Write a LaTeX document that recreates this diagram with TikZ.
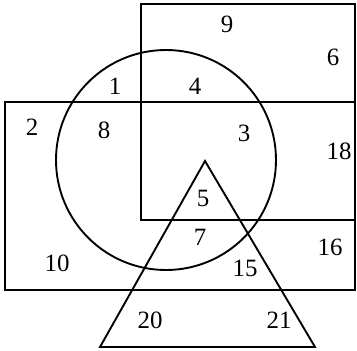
\documentclass[tikz,border=0pt]{standalone}
\usepackage{fontspec}
\setmainfont{Liberation Serif}
\usetikzlibrary{positioning}
\tikzset{
  setline/.style={draw, line width=1.9pt, line join=miter},
  regionlabel/.style={font=\fontsize{25}{28}\selectfont, inner sep=0pt, anchor=center}
}

\begin{document}
\begin{tikzpicture}[x=1bp, y=-1bp]
  \useasboundingbox (0,0) rectangle (357,351);
  % the two rectangles, the circle and the triangle
  \draw[setline] (141,4) rectangle (355,220);
  \draw[setline] (5,102) rectangle (355,290);
  \draw[setline] (166,160) circle[radius=110];
  \draw[setline] (205,161) -- (100,347) -- (315,347) -- cycle;
  % region numbers
  \node[regionlabel] (n9) at (227,24) {9};
  \node[regionlabel] (n6) at (333,57) {6};
  \node[regionlabel] (n1) at (115,86) {1};
  \node[regionlabel] (n4) at (195,86) {4};
  \node[regionlabel] (n2) at (32,127) {2};
  \node[regionlabel] (n8) at (104,130) {8};
  \node[regionlabel] (n3) at (244,133) {3};
  \node[regionlabel] (n18) at (339,151) {18};
  \node[regionlabel] (n5) at (203,198) {5};
  \node[regionlabel] (n7) at (200,237) {7};
  \node[regionlabel] (n16) at (330,247) {16};
  \node[regionlabel] (n10) at (57,263) {10};
  \node[regionlabel] (n15) at (245,268) {15};
  \node[regionlabel] (n20) at (150,320) {20};
  \node[regionlabel] (n21) at (279,320) {21};
\end{tikzpicture}
\end{document}
